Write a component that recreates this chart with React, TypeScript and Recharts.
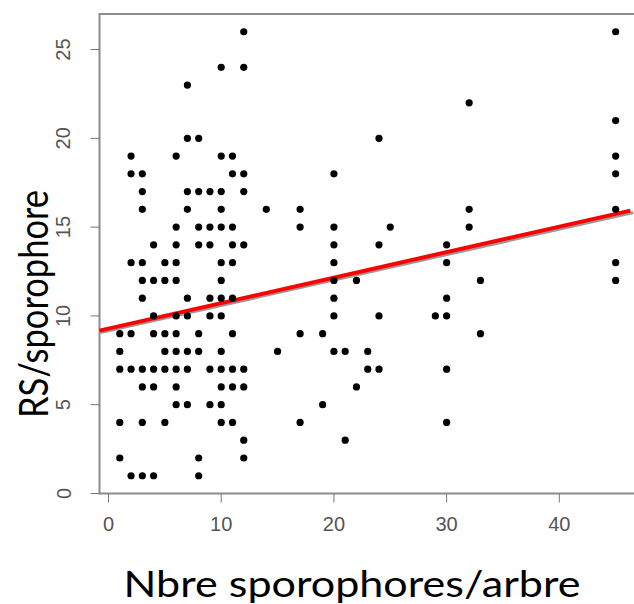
import { ScatterChart, Scatter, XAxis, YAxis, ReferenceArea, ReferenceLine } from 'recharts'

// number of sporophores per tree (x) and the RS/sporophore values seen at each count
const counts = [1, 2, 3, 4, 5, 6, 7, 8, 9, 10, 11, 12, 14, 15, 17, 19, 20, 21, 22, 23, 24, 25, 29, 30, 32, 33, 45]
const rsValues = [
  [2, 4, 7, 8, 9],
  [1, 7, 9, 13, 18, 19],
  [1, 4, 6, 7, 11, 12, 13, 16, 17, 18],
  [1, 6, 7, 9, 10, 12, 14],
  [4, 7, 8, 9, 12, 13],
  [5, 6, 7, 8, 9, 10, 12, 13, 14, 15, 19],
  [5, 7, 8, 10, 11, 16, 17, 20, 23],
  [1, 2, 8, 9, 14, 15, 17, 20],
  [5, 7, 10, 11, 14, 15, 17],
  [4, 5, 6, 7, 8, 10, 11, 12, 13, 15, 16, 17, 19, 24],
  [4, 6, 7, 9, 11, 13, 14, 15, 18, 19],
  [2, 3, 6, 7, 14, 17, 18, 24, 26],
  [16],
  [8],
  [4, 9, 15, 16],
  [5, 9],
  [8, 10, 11, 12, 13, 14, 15, 18],
  [3, 8],
  [6, 12],
  [7, 8],
  [7, 10, 14, 20],
  [15],
  [10],
  [4, 7, 10, 11, 13, 14],
  [15, 16, 22],
  [9, 12],
  [12, 13, 16, 18, 19, 21, 26],
]

// fitted regression line, end points
const fitX = [-0.8, 46.3]
const fitY = [9.17, 15.93]

const xTicks = [0, 10, 20, 30, 40]
const yTicks = [0, 5, 10, 15, 20, 25]
const xDomain = [-0.8, 46.76]
const yDomain = [0, 27]

const points = counts.flatMap((c, i) => rsValues[i].map(v => ({ x: c, y: v })))

const tickFont = '"Liberation Sans", Arial, sans-serif'
const titleFont = 'Lato, "Open Sans", sans-serif'

function YTick({ x, y, payload }: any) {
  const cx = x - 25
  return (
    <text x={cx} y={y} transform={`rotate(-90, ${cx}, ${y})`} textAnchor="middle"
      dominantBaseline="central" fontFamily={tickFont} fontSize={20} fill="#555">
      {payload.value}
    </text>
  )
}

function XTick({ x, y, payload }: any) {
  return (
    <text x={x} y={y + 19} textAnchor="middle" dominantBaseline="central"
      fontFamily={tickFont} fontSize={20} fill="#555">
      {payload.value}
    </text>
  )
}

function FitLine({ x1, y1, x2, y2 }: any) {
  return (
    <g>
      <line x1={x1 + 1} y1={y1 + 2} x2={x2 + 3} y2={y2 + 2} stroke="#9a9a9a" strokeWidth={3} />
      <line x1={x1} y1={y1} x2={x2} y2={y2} stroke="#ff0000" strokeWidth={4} />
    </g>
  )
}

export default function App() {
  return (
    <div style={{ position: 'fixed', left: 0, top: 0, width: 634, height: 604, overflow: 'hidden', background: '#fff' }}>
      <ScatterChart width={640} height={604} margin={{ top: 14, right: 4.5, bottom: 0, left: 0 }}>
        <XAxis
          type="number"
          dataKey="x"
          domain={xDomain}
          ticks={xTicks}
          allowDataOverflow
          height={110.5}
          axisLine={false}
          tickSize={9}
          tickLine={{ stroke: '#777' }}
          tick={<XTick />}
        />
        <YAxis
          type="number"
          dataKey="y"
          domain={yDomain}
          ticks={yTicks}
          allowDataOverflow
          width={99.5}
          axisLine={false}
          tickSize={9}
          tickLine={{ stroke: '#777' }}
          tick={<YTick />}
        />
        <ReferenceArea x1={xDomain[0]} x2={xDomain[1]} y1={yDomain[0]} y2={yDomain[1]}
          fill="none" stroke="#8c8c8c" strokeWidth={2} />
        <Scatter
          data={points}
          isAnimationActive={false}
          shape={(p: any) => <circle cx={p.cx} cy={p.cy} r={3.6} fill="#000" />}
        />
        <ReferenceLine
          segment={[{ x: fitX[0], y: fitY[0] }, { x: fitX[1], y: fitY[1] }]}
          shape={FitLine}
        />
      </ScatterChart>
      <div style={{
        position: 'absolute', left: 33, top: 304, transform: 'translate(-50%, -50%) rotate(-90deg) scaleY(1.15)',
        whiteSpace: 'nowrap', fontFamily: titleFont, fontSize: 34.5, lineHeight: 1, color: '#000',
      }}>
        RS/sporophore
      </div>
      <div style={{
        position: 'absolute', left: 352, top: 583, transform: 'translate(-50%, -50%) scaleX(1.18)',
        whiteSpace: 'nowrap', fontFamily: titleFont, fontSize: 36.5, lineHeight: 1, color: '#000',
      }}>
        Nbre sporophores/arbre
      </div>
    </div>
  )
}
